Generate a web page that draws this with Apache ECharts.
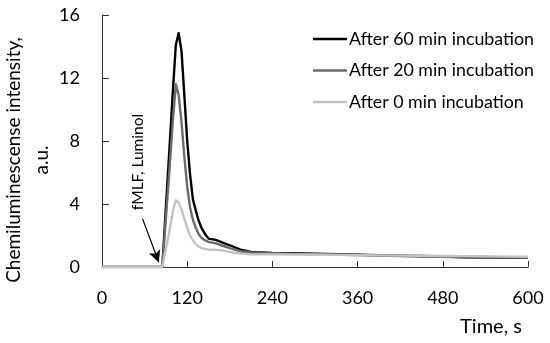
<!DOCTYPE html>
<html>
<head>
<meta charset="utf-8">
<script src="https://cdn.jsdelivr.net/npm/echarts@6/dist/echarts.min.js"></script>
<style>html,body{margin:0;padding:0;background:#fff;}#c{width:550px;height:343px;}</style>
</head>
<body>
<div id="c"></div>
<script>
const time = [0, 85, 90, 95, 100, 104, 108, 112, 116, 120, 124, 128, 132, 136, 140, 145, 150, 160, 170, 180, 195, 210, 240, 270, 300, 330, 360, 390, 420, 450, 480, 510, 540, 570, 600];
const after60 = [0, 0, 3.8, 7.5, 11.3, 14.1, 14.85, 13.7, 10.9, 8.0, 5.9, 4.3, 3.6, 2.95, 2.5, 2.1, 1.8, 1.72, 1.55, 1.38, 1.1, 0.95, 0.9, 0.88, 0.85, 0.82, 0.78, 0.75, 0.72, 0.7, 0.66, 0.62, 0.6, 0.58, 0.58];
const after20 = [0, 0, 3.1, 6.2, 9.4, 11.6, 10.9, 9.2, 7.0, 5.1, 3.8, 3.0, 2.5, 2.1, 1.85, 1.7, 1.6, 1.5, 1.35, 1.2, 1.0, 0.92, 0.88, 0.85, 0.82, 0.79, 0.76, 0.73, 0.7, 0.67, 0.65, 0.62, 0.6, 0.6, 0.6];
const after0 = [0, 0, 1.15, 2.3, 3.6, 4.25, 4.1, 3.65, 3.05, 2.5, 2.0, 1.7, 1.45, 1.3, 1.2, 1.15, 1.1, 1.1, 1.05, 0.95, 0.85, 0.8, 0.8, 0.79, 0.78, 0.77, 0.75, 0.74, 0.72, 0.71, 0.7, 0.69, 0.68, 0.66, 0.65];
const seriesNames = ['After 60 min incubation', 'After 20 min incubation', 'After 0 min incubation'];
const seriesColors = ['#000000', '#6a6a6a', '#c3c3c3'];
const xTicks = [0, 120, 240, 360, 480, 600];
const yTicks = [0, 4, 8, 12, 16];
const annotation = 'fMLF, Luminol';
const arrowFrom = [57, 3.07];
const arrowTo = [80, 0.3];

const FONT = 'Lato';
const chart = echarts.init(document.getElementById('c'), null, {renderer: 'canvas'});
const allValues = [after60, after20, after0];
const series = seriesNames.map((n, i) => ({
  name: n,
  type: 'line',
  symbol: 'none',
  smooth: false,
  color: seriesColors[i],
  lineStyle: {width: 2.4, color: seriesColors[i], join: 'round'},
  data: time.map((t, j) => [t, allValues[i][j]]),
  z: 2 + i
}));
series[0].markLine = {
  silent: true,
  symbol: ['none', 'arrow'],
  symbolSize: [9, 12],
  label: {show: false},
  lineStyle: {type: 'solid', color: '#000', width: 1.2},
  data: [[{coord: arrowFrom}, {coord: arrowTo}]]
};
chart.setOption({
  animation: false,
  backgroundColor: '#fff',
  grid: {left: 102, right: 22, top: 15, bottom: 76},
  legend: {
    orient: 'vertical',
    left: 313, top: 30, padding: 0,
    itemWidth: 34, itemHeight: 20, itemGap: 13.5,
    icon: 'path://M0,0 L34,0 L34,2.4 L0,2.4 Z',
    textStyle: {fontFamily: FONT, fontSize: 17.8, color: '#000', padding: [0, 0, 0, -3]},
    data: seriesNames
  },
  xAxis: {
    type: 'value', min: xTicks[0], max: xTicks[xTicks.length - 1], interval: 120,
    axisLine: {lineStyle: {color: '#333', width: 1}},
    axisTick: {inside: true, length: 6, lineStyle: {color: '#333'}},
    splitLine: {show: false},
    axisLabel: {fontFamily: FONT, fontSize: 18, color: '#000', margin: 22}
  },
  yAxis: {
    type: 'value', min: yTicks[0], max: yTicks[yTicks.length - 1], interval: 4,
    axisLine: {show: true, lineStyle: {color: '#333', width: 1}},
    axisTick: {show: true, inside: true, length: 7, lineStyle: {color: '#333'}},
    splitLine: {show: false},
    axisLabel: {fontFamily: FONT, fontSize: 18, color: '#000', margin: 22}
  },
  graphic: [
    {type: 'text', rotation: Math.PI / 2, x: 14, y: 160,
     style: {text: 'Chemiluminescense intensity,', fontFamily: FONT, fontSize: 19, fill: '#000', align: 'center', verticalAlign: 'middle'}},
    {type: 'text', rotation: Math.PI / 2, x: 42, y: 160,
     style: {text: 'a.u.', fontFamily: FONT, fontSize: 19, fill: '#000', align: 'center', verticalAlign: 'middle'}},
    {type: 'text', rotation: Math.PI / 2, x: 138, y: 162,
     style: {text: annotation, fontFamily: FONT, fontSize: 15.5, fill: '#000', align: 'center', verticalAlign: 'middle'}},
    {type: 'text', x: 522, y: 327,
     style: {text: 'Time, s', fontFamily: FONT, fontSize: 20, fill: '#000', align: 'right', verticalAlign: 'middle'}}
  ],
  series: series
});
</script>
</body>
</html>
